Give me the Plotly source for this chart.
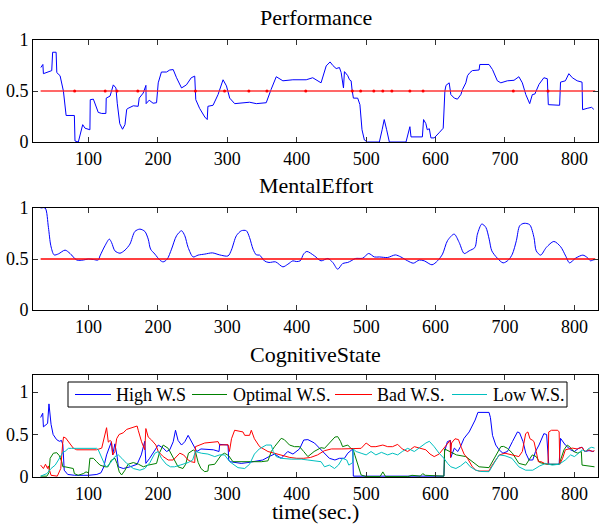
import plotly.graph_objects as go

# ---------------- Performance ----------------
perf_t = [31.3, 34.2, 35.0, 47.0, 48.3, 53.3, 54.3, 59.0, 63.8, 67.7, 79.6, 80.5, 85.3, 91.6, 95.0,
          102.0, 102.5, 107.0, 114.0, 119.0, 125.0, 125.5, 131.0, 135.7, 139.5, 141.4, 145.0, 149.0,
          152.5, 155.0, 157.0, 164.5, 171.5, 173.0, 178.8, 182.7, 183.0, 187.4, 193.0, 198.0, 200.4,
          205.0, 212.4, 217.0, 222.0, 226.8, 234.0, 241.0, 248.0, 253.0, 254.5, 260.0, 267.5, 271.0,
          272.0, 279.4, 286.6, 293.8, 298.7, 303.4, 310.6, 320.0, 332.0, 341.8, 356.0, 363.0, 370.5,
          380.0, 394.4, 413.6, 423.0, 435.0, 442.4, 448.0, 452.0, 456.8, 461.5, 464.0, 467.3, 468.7,
          473.5, 476.0, 478.3, 479.7, 481.6, 487.8, 491.0, 494.0, 497.4, 502.0, 519.0, 523.0, 526.0,
          529.5, 533.4, 557.4, 563.0, 564.6, 581.0, 582.7, 586.0, 588.0, 591.0, 593.3, 598.0, 605.0,
          611.0, 613.4, 615.0, 619.6, 622.0, 627.0, 631.5, 636.4, 638.8, 643.6, 646.0, 649.4, 653.0,
          662.7, 663.7, 677.0, 682.0, 689.0, 694.0, 703.4, 713.0, 720.0, 725.0, 730.0, 735.6, 739.4,
          743.0, 749.0, 756.0, 761.0, 762.4, 778.7, 780.0, 787.0, 792.0, 797.0, 804.0, 811.0, 811.8,
          818.4, 824.7, 828.0]
perf_v = [0.73, 0.76, 0.67, 0.70, 0.88, 0.88, 0.68, 0.65, 0.50, 0.26, 0.26, 0.01, 0.00, 0.17, 0.135,
          0.12, 0.415, 0.42, 0.29, 0.28, 0.28, 0.43, 0.45, 0.56, 0.53, 0.38, 0.18, 0.125,
          0.17, 0.32, 0.33, 0.355, 0.35, 0.43, 0.48, 0.555, 0.376, 0.41, 0.38, 0.385, 0.58,
          0.686, 0.686, 0.706, 0.71, 0.63, 0.53, 0.56, 0.63, 0.646, 0.415, 0.33, 0.245, 0.22,
          0.35, 0.36, 0.465, 0.61, 0.55, 0.43, 0.376, 0.385, 0.39, 0.376, 0.385, 0.515, 0.64,
          0.60, 0.61, 0.61, 0.63, 0.58, 0.746, 0.785, 0.75, 0.72, 0.73, 0.68, 0.53, 0.69,
          0.65, 0.61, 0.60, 0.51, 0.43, 0.43, 0.366, 0.12, 0.02, 0.0, 0.0, 0.12, 0.22,
          0.12, 0.0, 0.0, 0.15, 0.05, 0.05, 0.22, 0.18, 0.12, 0.13, 0.04, 0.04, 0.09,
          0.135, 0.50, 0.555, 0.58, 0.465, 0.43, 0.42, 0.465, 0.515, 0.58, 0.65, 0.68, 0.70,
          0.706, 0.76, 0.76, 0.71, 0.60, 0.58, 0.60, 0.605, 0.64, 0.58, 0.465, 0.376, 0.465,
          0.47, 0.565, 0.63, 0.62, 0.366, 0.36, 0.587, 0.60, 0.67, 0.63, 0.60, 0.587, 0.317,
          0.33, 0.34, 0.32]

ref_t = [31, 830]
ref_v = [0.5, 0.5]
dot_t = [80, 124, 141, 171, 254, 296, 331, 357, 413, 480, 492, 511, 524, 537, 563, 582, 712, 762]

# ---------------- Mental effort ----------------
me_t = [31, 37.5, 42.2, 45.7, 50.4, 56.6, 66.2, 73.4, 83, 92.5, 99.7, 107, 114, 116.5, 123.7, 130,
        133.3, 138, 145.3, 152.5, 159.6, 166.8, 174, 181.2, 186, 189.4, 195.6, 202.8, 207.5, 213.3,
        219.6, 226.8, 234, 238.7, 243.5, 250.6, 257.8, 267.5, 278.5, 289, 301, 305.8, 313, 320.2,
        327.4, 332, 337, 341.8, 346.5, 353.7, 360, 369.5, 380, 387.2, 394.4, 399.3, 405, 409.8,
        414.5, 425.6, 435, 444.7, 451.9, 459, 466.2, 473.4, 478.3, 484.5, 495, 503.6, 511.8, 518.9,
        531, 542, 550, 559.7, 568, 576.5, 583.7, 594.8, 602.8, 610, 617.2, 626.8, 634, 641.2, 648.4,
        656.6, 660.3, 666.6, 672.4, 677.2, 681, 689, 697.3, 704.9, 710.6, 716.4, 721.2, 727.4,
        735.6, 741.8, 745, 751.4, 759.5, 770.5, 780.2, 787.4, 793, 801.7, 812.2, 818.4, 823.3,
        826.6, 830]
me_v = [1.0, 1.0, 0.81, 0.63, 0.54, 0.55, 0.587, 0.554, 0.49, 0.49, 0.50, 0.495, 0.49, 0.53, 0.63, 0.695,
        0.66, 0.58, 0.557, 0.587, 0.646, 0.77, 0.793, 0.77, 0.695, 0.597, 0.548, 0.489, 0.472, 0.498,
        0.597, 0.728, 0.777, 0.728, 0.613, 0.52, 0.538, 0.548, 0.56, 0.54, 0.53, 0.587, 0.728, 0.777,
        0.777, 0.71, 0.597, 0.54, 0.538, 0.48, 0.466, 0.472, 0.423, 0.449, 0.482, 0.475, 0.482, 0.548,
        0.574, 0.53, 0.482, 0.505, 0.466, 0.40, 0.456, 0.466, 0.482, 0.505, 0.508, 0.554, 0.52, 0.52,
        0.515, 0.54, 0.52, 0.482, 0.459, 0.49, 0.482, 0.443, 0.482, 0.548, 0.68, 0.744, 0.662, 0.554, 0.58,
        0.613, 0.744, 0.843, 0.81, 0.695, 0.58, 0.508, 0.462, 0.49, 0.548, 0.68, 0.826, 0.85,
        0.836, 0.71, 0.58, 0.538, 0.613, 0.672, 0.62, 0.53, 0.462, 0.508, 0.538, 0.515, 0.482,
        0.49, 0.495]

# ---------------- Cognitive state ----------------
high_t = [31, 34, 35, 41, 43, 46, 49, 54, 58, 61, 63, 65, 70, 80, 100, 112, 118, 122, 126, 131, 133,
          134.7, 138, 141, 143, 150, 160, 170, 176, 181, 182.6, 188, 195.6, 200.4, 207.6, 212.4, 217,
          222, 225.3, 229, 234, 238.7, 243.5, 248, 253, 256, 262, 280, 288, 289, 301, 302, 304, 310.5,
          320, 329.7, 339, 351, 360, 368, 377.6, 387, 394.5, 404, 410, 416, 425.5, 435, 440, 447, 455,
          461.5, 468.7, 473.5, 480.7, 481.5, 500, 560, 612, 613, 617, 621.5, 622, 627, 632, 636, 641,
          648.4, 657, 661, 677, 679, 682, 686.7, 691.5, 697, 703.5, 710.7, 718, 721, 726, 730, 734.6,
          740, 744, 749, 756, 760, 762, 763, 778, 780, 787, 794.5, 800, 806.5, 811, 815, 821, 828]
high_v = [0.70, 0.75, 0.59, 0.63, 0.86, 0.62, 0.50, 0.44, 0.42, 0.43, 0.38, 0.08, 0.03, 0.02, 0.02, 0.03,
          0.05, 0.12, 0.26, 0.376, 0.415, 0.26, 0.39, 0.25, 0.12, 0.10, 0.12, 0.15, 0.26, 0.42, 0.16, 0.22,
          0.32, 0.376, 0.34, 0.30, 0.32, 0.415, 0.55, 0.43, 0.376, 0.415, 0.49, 0.415, 0.34, 0.30, 0.33,
          0.32, 0.30, 0.384, 0.376, 0.20, 0.18, 0.17, 0.16, 0.17, 0.18, 0.20, 0.24, 0.27, 0.22, 0.30,
          0.27, 0.33, 0.435, 0.44, 0.40, 0.32, 0.27, 0.22, 0.20, 0.22, 0.22, 0.28, 0.33, 0.01, 0.01, 0.01,
          0.01, 0.30, 0.416, 0.43, 0.23, 0.34, 0.30, 0.36, 0.455, 0.53, 0.67, 0.76, 0.76, 0.70, 0.49,
          0.376, 0.32, 0.28, 0.30, 0.416, 0.53, 0.52, 0.416, 0.28, 0.20, 0.20, 0.30, 0.376, 0.51, 0.50,
          0.30, 0.15, 0.15, 0.455, 0.376, 0.32, 0.30, 0.34, 0.35, 0.30, 0.31, 0.30]

opt_t = [31, 40, 43, 44.7, 49.4, 54.3, 58, 61.4, 63, 66, 78, 79.6, 85, 92.5, 96.4, 100, 102, 107,
         111.7, 116.5, 123.7, 128, 133, 138, 141, 144.3, 147.7, 152.5, 157, 164.5, 172, 179, 186, 198,
         202, 207.6, 214.8, 222, 229, 236, 240, 244, 251, 254, 258, 262, 267.4, 272, 273, 281.8, 291.4,
         296, 302, 308, 318, 349, 358.5, 363.3, 368, 377.6, 382, 389.6, 396.8, 404, 410, 416, 425, 435,
         440, 447, 455, 459, 463, 466, 473.5, 478, 481, 484, 489.3, 492.7, 500, 520, 524, 528, 560,
         566, 578, 581.5, 585, 612, 613, 620, 630, 643.6, 653, 662.7, 677, 682, 689, 694, 698, 703.5,
         710.7, 720, 729.8, 735, 739.4, 745, 750, 760, 778, 785, 789.7, 794, 799, 805, 810, 811, 818,
         825.6, 829]
opt_v = [0.01, 0.01, 0.05, 0.22, 0.28, 0.286, 0.25, 0.18, 0.12, 0.12, 0.10, 0.04, 0.02, 0.04, 0.06, 0.05,
         0.22, 0.22, 0.18, 0.14, 0.12, 0.12, 0.20, 0.22, 0.16, 0.06, 0.024, 0.08, 0.15, 0.17, 0.15, 0.12,
         0.14, 0.16, 0.28, 0.376, 0.337, 0.22, 0.12, 0.10, 0.15, 0.28, 0.318, 0.30, 0.17, 0.10, 0.063,
         0.07, 0.14, 0.15, 0.26, 0.28, 0.25, 0.18, 0.18, 0.18, 0.19, 0.30, 0.357, 0.455, 0.44, 0.376,
         0.357, 0.357, 0.30, 0.24, 0.30, 0.345, 0.337, 0.40, 0.47, 0.475, 0.42, 0.357, 0.376, 0.337,
         0.33, 0.25, 0.10, 0.024, 0.005, 0.005, 0.06, 0.005, 0.005, 0.02, 0.01, 0.04, 0.02, 0.01, 0.33,
         0.30, 0.26, 0.24, 0.18, 0.12, 0.11, 0.18, 0.28, 0.357, 0.36, 0.337, 0.28, 0.16, 0.14, 0.20,
         0.26, 0.24, 0.17, 0.15, 0.15, 0.32, 0.376, 0.35, 0.30, 0.28, 0.30, 0.14, 0.13, 0.12, 0.12]

bad_t = [31, 33, 35, 38, 41, 42, 44, 46, 55, 60, 62.8, 64, 67, 72, 78, 83, 102, 111.7, 119, 123.7,
         126, 128.5, 131, 133, 135, 138, 140.5, 144, 150, 155, 164.5, 170, 171.6, 176.4, 181, 182.6,
         186, 190.8, 197, 200.4, 207.6, 214.8, 222, 231.5, 237, 243.5, 248, 253, 254, 267.4, 286.6, 289,
         301, 303, 306, 310.5, 322.5, 325, 332, 334.5, 339, 346.5, 358.5, 368, 375.2, 382, 390, 400, 410,
         420, 430, 440, 450, 465, 480.7, 492.7, 500, 507, 514, 524, 531, 538, 545.4, 552, 559.8, 569.4,
         577, 586, 592, 598, 605, 612, 618, 621, 621.5, 623, 628, 633, 637, 641, 646, 653, 658, 663,
         677, 680, 686.7, 692, 700, 710, 720, 725, 729.8, 733, 736, 740, 741.8, 745, 748, 752, 757, 762,
         763, 767, 776, 778, 779, 783, 787, 797, 804, 811, 815, 821, 825.7, 829]
bad_v = [0.14, 0.12, 0.10, 0.15, 0.10, 0.13, 0.08, 0.02, 0.01, 0.10, 0.40, 0.47, 0.46, 0.40, 0.34, 0.32,
         0.32, 0.32, 0.34, 0.49, 0.58, 0.41, 0.43, 0.415, 0.26, 0.30, 0.45, 0.50, 0.52, 0.56, 0.59, 0.60,
         0.55, 0.415, 0.32, 0.57, 0.47, 0.435, 0.376, 0.30, 0.24, 0.20, 0.20, 0.28, 0.26, 0.20, 0.18, 0.17,
         0.357, 0.40, 0.416, 0.376, 0.38, 0.30, 0.45, 0.55, 0.53, 0.49, 0.49, 0.55, 0.45, 0.357, 0.30,
         0.28, 0.26, 0.25, 0.23, 0.22, 0.22, 0.23, 0.26, 0.31, 0.33, 0.33, 0.337, 0.337, 0.40, 0.357,
         0.357, 0.376, 0.357, 0.357, 0.384, 0.33, 0.30, 0.357, 0.34, 0.32, 0.27, 0.24, 0.27, 0.34, 0.41,
         0.43, 0.23, 0.40, 0.45, 0.44, 0.35, 0.27, 0.22, 0.12, 0.08, 0.07, 0.07, 0.12, 0.20, 0.26, 0.28,
         0.26, 0.24, 0.30, 0.51, 0.53, 0.45, 0.43, 0.416, 0.30, 0.18, 0.18, 0.16, 0.15, 0.53, 0.55, 0.55,
         0.53, 0.15, 0.22, 0.32, 0.34, 0.33, 0.35, 0.30, 0.32, 0.30, 0.31]

low_t = [31, 40, 46, 52, 56.6, 61.4, 63.8, 66, 71, 75.8, 85.4, 111.7, 114, 119, 123.7, 126, 131, 138,
         143, 148, 155, 164.5, 174, 181, 188.5, 195.6, 200.4, 205, 212, 218, 224, 232, 243.5, 250, 254,
         262.6, 272, 281.8, 289, 296, 303.4, 315.3, 325, 332, 339, 346, 356, 363.3, 366, 370.4, 377.6,
         392, 406.4, 416, 435, 440, 447, 454.4, 460, 466, 472, 475, 478.3, 480.7, 481.5, 485.5, 492.7,
         500, 507, 514, 522, 531, 538, 545.4, 552, 559.8, 569.4, 577, 586, 591, 598, 605, 612, 617.3,
         622, 629.3, 636, 643.6, 650, 658, 665, 677, 682, 686.7, 691.5, 700, 710, 720, 729.8, 740, 750,
         758.6, 768, 778, 787, 794.5, 800, 806, 811, 816, 821, 825, 829]
low_v = [0.01, 0.04, 0.10, 0.14, 0.20, 0.26, 0.30, 0.30, 0.337, 0.337, 0.337, 0.337, 0.32, 0.22, 0.14,
         0.12, 0.16, 0.24, 0.26, 0.22, 0.16, 0.10, 0.08, 0.10, 0.17, 0.28, 0.30, 0.22, 0.15, 0.12, 0.12,
         0.14, 0.17, 0.20, 0.30, 0.28, 0.27, 0.24, 0.26, 0.26, 0.18, 0.11, 0.10, 0.15, 0.27, 0.33, 0.376,
         0.376, 0.30, 0.24, 0.22, 0.21, 0.21, 0.20, 0.18, 0.12, 0.14, 0.10, 0.14, 0.22, 0.20, 0.14, 0.16,
         0.17, 0.33, 0.30, 0.28, 0.26, 0.30, 0.26, 0.29, 0.26, 0.28, 0.26, 0.30, 0.337, 0.30, 0.35, 0.40,
         0.42, 0.357, 0.28, 0.22, 0.16, 0.12, 0.10, 0.13, 0.18, 0.12, 0.08, 0.065, 0.063, 0.13, 0.20,
         0.26, 0.25, 0.22, 0.12, 0.08, 0.08, 0.13, 0.16, 0.14, 0.15, 0.20, 0.26, 0.24, 0.28, 0.32, 0.30,
         0.337, 0.35, 0.34]

x_ticks = [100, 200, 300, 400, 500, 600, 700, 800]
y_ticks = [0, 0.5, 1]
y_ticktext = ["0", "0.5", "1"]
panel_titles = ["Performance", "MentalEffort", "CognitiveState"]
legend_names = ["High W.S", "Optimal W.S.", "Bad W.S.", "Low W.S."]
cs_colors = ["#0000FF", "#008000", "#FF0000", "#00BFBF"]

# ---------------- Layout geometry (pixels) ----------------
W, H = 601, 525
FONT = "Liberation Serif"
ML, MR, MT, MB = 33, 3, 40, 48          # plot area: x 33..598, y 40..477
PW, PH = W - ML - MR, H - MT - MB
panels_px = [(40, 142), (208, 310), (375, 477)]
title_y_px = [18, 185, 354]
legend_box_px = (68, 382, 567, 407)     # x0, y0, x1, y1
legend_row_y = 394.5
legend_items_px = [(75, 111, 115), (192, 227, 232), (335, 372, 376), (452, 487, 492)]


def py(p):
    return (H - MB - p) / PH


def px(p):
    return (p - ML) / PW


fig = go.Figure()

# Panel 1
fig.add_trace(go.Scatter(x=perf_t, y=perf_v, mode="lines", line=dict(color="#0000FF", width=1),
                         xaxis="x", yaxis="y", showlegend=False))
fig.add_trace(go.Scatter(x=ref_t, y=ref_v, mode="lines", line=dict(color="rgba(255,40,40,0.7)", width=2),
                         xaxis="x", yaxis="y", showlegend=False))
fig.add_trace(go.Scatter(x=dot_t, y=[0.5] * len(dot_t), mode="markers",
                         marker=dict(color="#FF0000", size=3), xaxis="x", yaxis="y", showlegend=False))

# Panel 2
fig.add_trace(go.Scatter(x=me_t, y=me_v, mode="lines",
                         line=dict(color="#0000FF", width=1, shape="spline", smoothing=0.8),
                         xaxis="x2", yaxis="y2", showlegend=False))
fig.add_trace(go.Scatter(x=ref_t, y=ref_v, mode="lines", line=dict(color="#FF0000", width=1.5),
                         xaxis="x2", yaxis="y2", showlegend=False))

# Panel 3
cs_series = [(high_t, high_v), (opt_t, opt_v), (bad_t, bad_v), (low_t, low_v)]
for (tt, vv), name, col in zip(cs_series, legend_names, cs_colors):
    fig.add_trace(go.Scatter(x=tt, y=vv, mode="lines", name=name, line=dict(color=col, width=1),
                             xaxis="x3", yaxis="y3", showlegend=False))

common = dict(showline=True, linecolor="black", linewidth=1, mirror="ticks", ticks="inside",
              ticklen=5, tickcolor="#333333", showgrid=False, zeroline=False, automargin=False,
              tickfont=dict(family=FONT, size=18, color="black"))

layout = dict(width=W, height=H, autosize=False, margin=dict(l=ML, r=MR, t=MT, b=MB, pad=0),
              paper_bgcolor="white", plot_bgcolor="white", showlegend=False,
              font=dict(family=FONT, color="black"))

for i, (top, bot) in enumerate(panels_px):
    sfx = "" if i == 0 else str(i + 1)
    layout["xaxis" + sfx] = dict(common, domain=[0, 1], range=[20, 834],
                                 tickvals=x_ticks, anchor="y" + sfx)
    layout["yaxis" + sfx] = dict(common, domain=[py(bot), py(top)],
                                 range=[0, 1.2] if i == 2 else [0, 1],
                                 tickvals=y_ticks, ticktext=y_ticktext, anchor="x" + sfx)

annotations = []
for t, yp in zip(panel_titles, title_y_px):
    annotations.append(dict(text=t, x=px((ML + W - MR) / 2), y=py(yp), xref="paper", yref="paper",
                            showarrow=False, xanchor="center", yanchor="middle",
                            font=dict(family=FONT, size=22, color="black")))
annotations.append(dict(text="time(sec.)", x=px((ML + W - MR) / 2), y=py(524.5), xref="paper", yref="paper",
                        showarrow=False, xanchor="center", yanchor="bottom", borderpad=0,
                        font=dict(family=FONT, size=22, color="black")))

# Legend box for the CognitiveState panel (drawn as a framed key)
shapes = [dict(type="rect", xref="paper", yref="paper",
               x0=px(legend_box_px[0]), x1=px(legend_box_px[2]),
               y0=py(legend_box_px[3]), y1=py(legend_box_px[1]),
               line=dict(color="black", width=1), fillcolor="white", layer="above")]
for (lx0, lx1, tx), name, col in zip(legend_items_px, legend_names, cs_colors):
    shapes.append(dict(type="line", xref="paper", yref="paper", x0=px(lx0), x1=px(lx1),
                       y0=py(legend_row_y), y1=py(legend_row_y), line=dict(color=col, width=1),
                       layer="above"))
    annotations.append(dict(text=name, x=px(tx), y=py(legend_row_y), xref="paper", yref="paper",
                            showarrow=False, xanchor="left", yanchor="middle", borderpad=0,
                            font=dict(family=FONT, size=18, color="black")))
layout["annotations"] = annotations
layout["shapes"] = shapes

fig.update_layout(**layout)
fig.write_html("out.html", config={"displayModeBar": False},
               post_script="document.body.style.margin='0';document.body.style.padding='0';")
